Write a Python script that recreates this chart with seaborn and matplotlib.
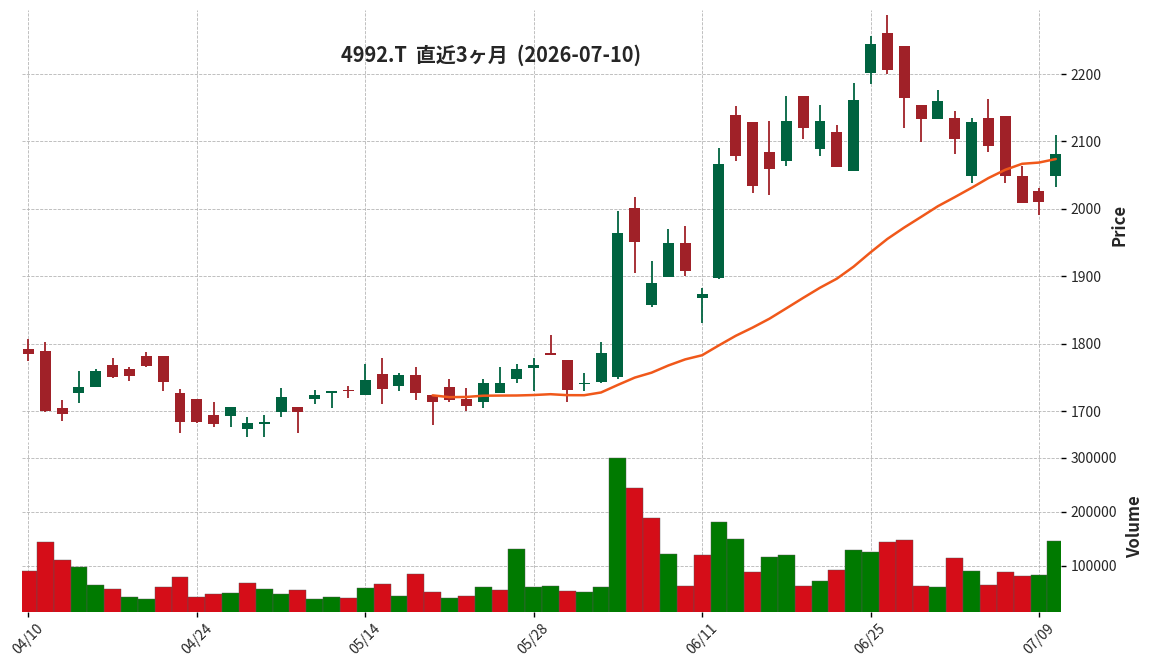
import numpy as np
import pandas as pd
import seaborn as sns
from matplotlib import pyplot as plt

# trading days 2026-04-10 .. 2026-07-10 (Tokyo)
dates = ["04/10", "04/13", "04/14", "04/15", "04/16", "04/17", "04/20", "04/21",
         "04/22", "04/23", "04/24", "04/27", "04/28", "04/30", "05/01", "05/07",
         "05/08", "05/11", "05/12", "05/13", "05/14", "05/15", "05/18", "05/19",
         "05/20", "05/21", "05/22", "05/25", "05/26", "05/27", "05/28", "05/29",
         "06/01", "06/02", "06/03", "06/04", "06/05", "06/08", "06/09", "06/10",
         "06/11", "06/12", "06/15", "06/16", "06/17", "06/18", "06/19", "06/22",
         "06/23", "06/24", "06/25", "06/26", "06/29", "06/30", "07/01", "07/02",
         "07/03", "07/06", "07/07", "07/08", "07/09", "07/10"]

opens = [1792, 1789, 1704, 1727, 1736, 1768, 1762, 1781, 1781, 1727, 1718, 1694, 1693,
         1674, 1681, 1698, 1706, 1718, 1726, 1730, 1724, 1755, 1737, 1753, 1724, 1736,
         1718, 1714, 1727, 1748, 1764, 1786, 1775, 1740, 1743, 1750, 2001, 1858, 1899,
         1949, 1868, 1897, 2139, 2129, 2084, 2071, 2167, 2089, 2114, 2056, 2202, 2261,
         2242, 2154, 2134, 2135, 2048, 2135, 2138, 2049, 2026, 2048]
highs = [1807, 1802, 1716, 1760, 1763, 1779, 1766, 1788, 1781, 1732, 1718, 1714, 1706,
         1691, 1694, 1734, 1706, 1731, 1730, 1737, 1770, 1779, 1757, 1765, 1724, 1747,
         1734, 1747, 1765, 1770, 1779, 1813, 1775, 1756, 1802, 1997, 2018, 1923, 1970,
         1975, 1882, 2090, 2152, 2129, 2130, 2167, 2168, 2154, 2125, 2186, 2256, 2287,
         2242, 2154, 2176, 2145, 2135, 2163, 2138, 2063, 2031, 2109]
lows = [1774, 1699, 1685, 1712, 1736, 1749, 1745, 1766, 1730, 1667, 1682, 1676, 1677,
        1661, 1661, 1691, 1667, 1710, 1705, 1720, 1724, 1711, 1730, 1717, 1679, 1714,
        1700, 1705, 1727, 1741, 1730, 1783, 1713, 1730, 1742, 1748, 1905, 1854, 1899,
        1901, 1831, 1896, 2071, 2024, 2021, 2063, 2103, 2078, 2062, 2056, 2185, 2200,
        2120, 2099, 2134, 2081, 2038, 2085, 2038, 2008, 1991, 2033]
closes = [1785, 1700, 1696, 1736, 1759, 1751, 1752, 1767, 1743, 1684, 1683, 1681, 1706,
          1682, 1682, 1721, 1699, 1724, 1730, 1729, 1746, 1733, 1753, 1726, 1714, 1717,
          1708, 1742, 1741, 1762, 1768, 1783, 1731, 1741, 1786, 1964, 1951, 1890, 1949,
          1908, 1874, 2066, 2079, 2034, 2059, 2130, 2120, 2130, 2062, 2162, 2245, 2206,
          2165, 2134, 2160, 2104, 2129, 2093, 2048, 2008, 2010, 2082]
volumes = [89600, 144600, 109800, 96900, 63900, 56600, 41900, 38200, 60200, 78600,
           41900, 47400, 49200, 67600, 56600, 47400, 54700, 38200, 41900, 40100,
           58400, 65700, 43700, 84100, 51100, 40100, 43700, 60200, 54700, 131800,
           60200, 62100, 52900, 51100, 60200, 298800, 243700, 188700, 122600, 62100,
           119000, 181300, 150200, 87800, 115300, 119000, 62100, 71300, 91400, 130000,
           124500, 144600, 148300, 62100, 60200, 113500, 89600, 63900, 87800, 80400,
           82300, 146500]

title = "4992.T  直近3ヶ月  (2026-07-10)"

up_c, down_c = "#006340", "#a02128"
vup_c, vdown_c = "#007a00", "#d50d18"
ma_c = "#f0581a"

df = pd.DataFrame({"date": dates, "open": opens, "high": highs,
                   "low": lows, "close": closes, "volume": volumes})
df["i"] = np.arange(len(df))
df["ma25"] = df["close"].rolling(25).mean()
# volume colour: close vs previous close
prev = df["close"].shift(1).fillna(df["open"])
df["vdir"] = np.where(df["close"] >= prev, "up", "down")

sns.set_theme(style="whitegrid")
plt.rcParams["font.family"] = ["Noto Sans CJK JP", "DejaVu Sans"]
plt.rcParams["axes.unicode_minus"] = False

fig = plt.figure(figsize=(11.52, 6.7), dpi=100)
L, W = 22 / 1152, (1060.5 - 22) / 1152
ax = fig.add_axes([L, 1 - 440 / 670, W, 430 / 670])
axv = fig.add_axes([L, 1 - 612 / 670, W, 170 / 670], sharex=ax)

# volume
sns.barplot(data=df, x="i", y="volume", hue="vdir", order=list(df["i"]),
            palette={"up": vup_c, "down": vdown_c}, dodge=False, width=1.0,
            errorbar=None, legend=False, saturation=1, ax=axv,
            edgecolor="#555555", linewidth=0.3)

# candles
cols = [up_c if c >= o else down_c for o, c in zip(opens, closes)]
body_lo = np.minimum(df["open"], df["close"])
body_h = np.maximum(np.abs(df["close"] - df["open"]), 2.0)
ax.vlines(df["i"], df["low"], df["high"], colors=cols, linewidth=1.3, zorder=2)
ax.bar(df["i"], body_h, bottom=body_lo, width=0.65, color=cols,
       linewidth=0, zorder=3)

sns.lineplot(data=df.dropna(), x="i", y="ma25", color=ma_c, linewidth=1.8,
             ax=ax, zorder=4)

for a in (ax, axv):
    a.set_facecolor("white")
    for s in a.spines.values():
        s.set_visible(False)
    a.grid(True, linestyle="--", linewidth=0.6, color="#b5b5b5")
    a.xaxis.grid(True)
    a.yaxis.tick_right()
    a.yaxis.set_label_position("right")
    a.tick_params(axis="y", which="both", right=True, length=3.5, width=1,
                  color="black", labelsize=10, pad=4)
    a.set_axisbelow(True)

ax.set_xlim(-0.38, 61.28)
ax.set_ylim(1657, 2295)
ax.set_yticks([1700, 1800, 1900, 2000, 2100, 2200])
ax.set_ylabel("Price", fontsize=12, fontweight="bold", labelpad=6)
ax.set_xlabel("")
ax.tick_params(axis="x", which="both", bottom=False, labelbottom=False)

tick_pos = list(range(0, len(dates), 10))
axv.set_xticks(tick_pos)
axv.set_xticklabels([dates[k] for k in tick_pos], rotation=45, ha="center",
                    fontsize=10)
axv.set_xlim(-0.38, 61.28)
axv.tick_params(axis="x", bottom=True, length=3.5, width=1, color="black", pad=3)
axv.set_ylim(14500, 328700)
axv.set_yticks([100000, 200000, 300000])
axv.set_yticklabels(["100000", "200000", "300000"])
axv.set_ylabel("Volume", fontsize=12, fontweight="bold", labelpad=6)
axv.set_xlabel("")

fig.text(491 / 1152, 1 - 55 / 670, title, ha="center", va="center",
         fontsize=14.4, fontweight="bold")

fig.savefig("out.png", dpi=100)
